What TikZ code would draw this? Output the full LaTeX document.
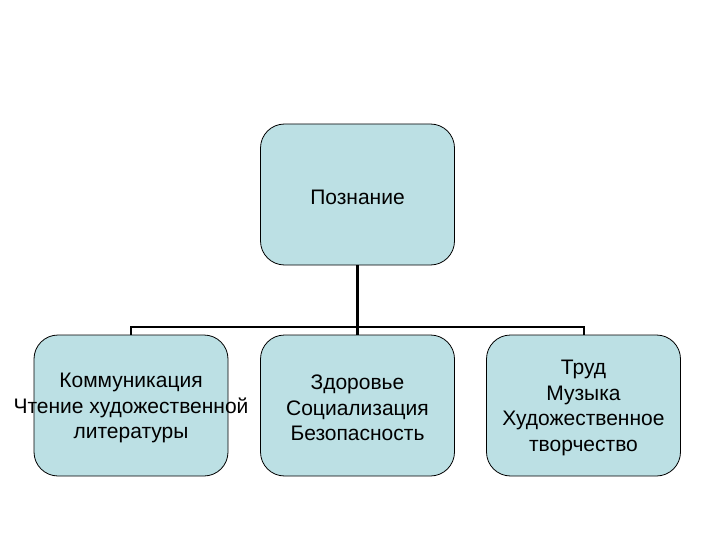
\documentclass[tikz,border=0pt]{standalone}
\usepackage{fontspec}
\setmainfont{Liberation Sans}
\definecolor{boxfill}{RGB}{188,224,228}
\begin{document}
\begin{tikzpicture}[x=1pt,y=-1pt,
  box/.style={draw=black, line width=0.8pt, fill=boxfill, rounded corners=24pt,
    minimum width=194pt, minimum height=141pt, inner sep=0pt},
  txt/.style={align=center, inner sep=0pt, yshift=-2.5pt,
    font=\fontsize{21}{25.5}\selectfont, text=black},
  conn/.style={draw=black, line width=2pt}]
\useasboundingbox (0,0) rectangle (720,540);
\node[box] (top) at (357.5,194.5) {};
\node[box] (l) at (131,405.5) {};
\node[box] (m) at (357.5,405.5) {};
\node[box] (r) at (583.5,405.5) {};
\node[txt] (topt) at (top.center) {Познание};
\node[txt] (lt) at (l.center) {Коммуникация\\Чтение художественной\\литературы};
\node[txt] (mt) at (m.center) {Здоровье\\Социализация\\Безопасность};
\node[txt] (rt) at (r.center) {Труд\\Музыка\\Художественное\\творчество};
\coordinate (j) at (357.5,327);
\draw[conn, line width=3pt] (top.south) -- (m.north);
\draw[conn] (l.north) |- (j) -| (r.north);
\end{tikzpicture}
\end{document}
